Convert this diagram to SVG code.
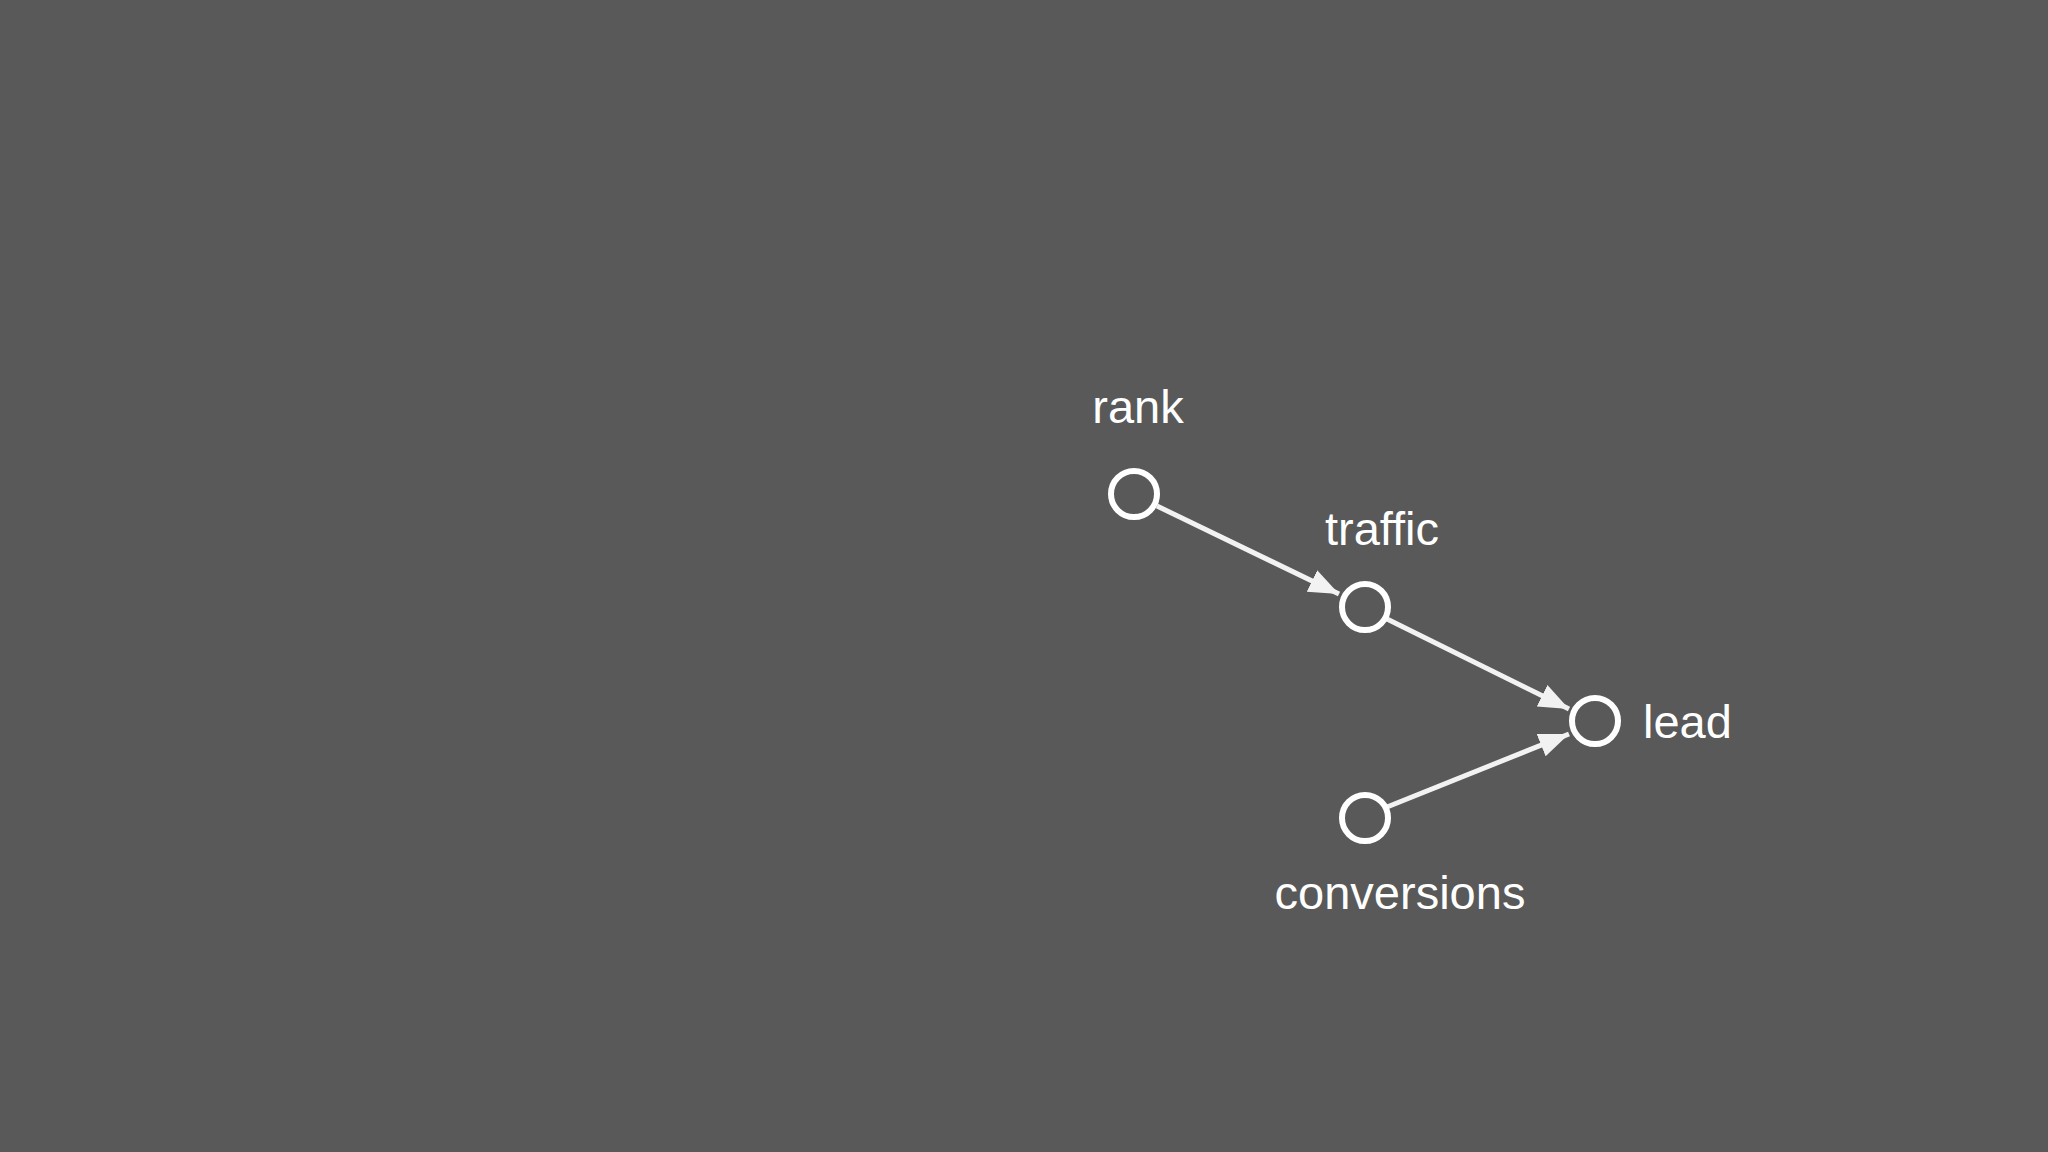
<svg xmlns="http://www.w3.org/2000/svg" width="2048" height="1152" viewBox="0 0 2048 1152">
<style>
.n{fill:none;stroke:#fff;stroke-width:6}
.e{stroke:#f2f2f2;stroke-width:5;fill:none}
text{font-family:"Liberation Sans",Arial,sans-serif;font-size:47px;fill:#fff}
</style>
<defs><marker id="a" viewBox="0 0 10 10" refX="10" refY="5" markerWidth="6" markerHeight="6" markerUnits="strokeWidth" orient="auto"><path d="M0,1 L10,5 L0,9 z" fill="#f2f2f2"/></marker></defs>
<rect width="2048" height="1152" fill="#595959"/>
<g id="connectors">
<line class="e" x1="1157" y1="506" x2="1339" y2="594" marker-end="url(#a)"/>
<line class="e" x1="1387" y1="619" x2="1569" y2="709" marker-end="url(#a)"/>
<line class="e" x1="1387" y1="807" x2="1569" y2="734" marker-end="url(#a)"/>
</g>
<g id="rank"><circle class="n" cx="1134" cy="494" r="23"/><text x="1138" y="423" text-anchor="middle">rank</text></g>
<g id="traffic"><circle class="n" cx="1365" cy="607" r="23"/><text x="1382" y="545" text-anchor="middle">traffic</text></g>
<g id="lead"><circle class="n" cx="1595" cy="721" r="23"/><text x="1643" y="738">lead</text></g>
<g id="conversions"><circle class="n" cx="1365" cy="818" r="23"/><text x="1400" y="909" text-anchor="middle">conversions</text></g>
</svg>
